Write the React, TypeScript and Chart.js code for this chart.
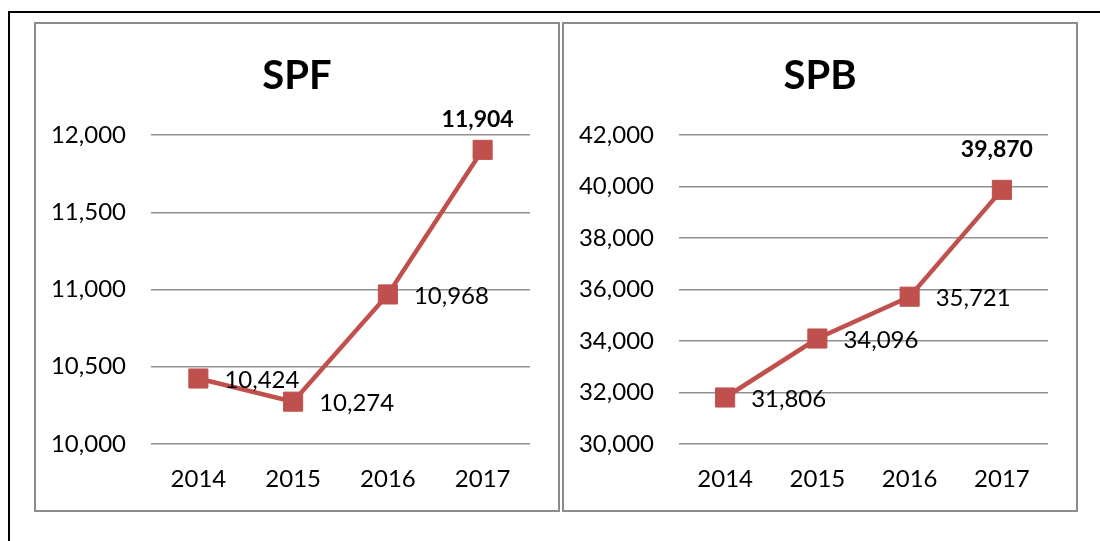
import React, { useEffect, useRef } from "react";
import { Chart, registerables } from "chart.js";

Chart.register(...registerables);

const years = ["2014", "2015", "2016", "2017"];
const spfValues = [10424, 10274, 10968, 11904];
const spbValues = [31806, 34096, 35721, 39870];
const spfTicks = { min: 10000, max: 12000, step: 500 };
const spbTicks = { min: 30000, max: 42000, step: 2000 };

const RED = "#C0504D";
const FONT = "Lato";

const fmt = (v: number) => Number(v).toLocaleString("en-US");

const valueLabels = {
  id: "valueLabels",
  afterDatasetsDraw(chart: any, _args: any, opts: any) {
    const ctx = chart.ctx;
    const meta = chart.getDatasetMeta(0);
    const data = chart.data.datasets[0].data as number[];
    ctx.save();
    ctx.fillStyle = "#000";
    meta.data.forEach((pt: any, i: number) => {
      const last = i === data.length - 1;
      if (last) {
        ctx.font = `bold 23px ${FONT}`;
        ctx.textAlign = "center";
        ctx.textBaseline = "middle";
        ctx.fillText(fmt(data[i]), pt.x - 5, pt.y - (opts.above || 30));
      } else {
        ctx.font = `24px ${FONT}`;
        ctx.textAlign = "left";
        ctx.textBaseline = "middle";
        ctx.fillText(fmt(data[i]), pt.x + 26, pt.y + 2);
      }
    });
    ctx.restore();
  },
};

function LineChart(props: {
  title: string;
  values: number[];
  ticks: { min: number; max: number; step: number };
  above: number;
  width: number;
}) {
  const ref = useRef<HTMLCanvasElement | null>(null);
  useEffect(() => {
    if (!ref.current) return;
    const { title, values, ticks, above } = props;
    const chart = new Chart(ref.current, {
      type: "line",
      data: {
        labels: years,
        datasets: [
          {
            data: values,
            borderColor: RED,
            backgroundColor: RED,
            borderWidth: 4.5,
            pointStyle: "rect",
            pointRadius: 13.5,
            pointBorderWidth: 1,
            pointBorderColor: RED,
            pointBackgroundColor: RED,
            tension: 0,
            clip: false as any,
          },
        ],
      },
      options: {
        animation: false,
        responsive: false,
        maintainAspectRatio: false,
        layout: { padding: 0 },
        plugins: {
          legend: { display: false },
          tooltip: { enabled: false },
          title: {
            display: true,
            text: title,
            color: "#000",
            font: { family: FONT, size: 40, weight: "bold" },
            padding: { top: 28, bottom: 35 },
          },
          valueLabels: { above },
        } as any,
        scales: {
          x: {
            type: "category",
            offset: true,
            grid: { display: false, drawTicks: false },
            border: { display: false },
            ticks: {
              color: "#000",
              font: { family: FONT, size: 24 },
              padding: 21,
              maxRotation: 0,
            },
            afterFit: (s: any) => {
              s.height = 66;
            },
          },
          y: {
            min: ticks.min,
            max: ticks.max,
            grid: { color: "#8f8f8f", lineWidth: 1.5, drawTicks: false },
            border: { display: false },
            ticks: {
              stepSize: ticks.step,
              color: "#000",
              font: { family: FONT, size: 24 },
              padding: 25,
              callback: (v: any) => fmt(v),
            },
            afterFit: (s: any) => {
              s.width = 115;
            },
          },
          yRight: {
            position: "right",
            display: true,
            min: ticks.min,
            max: ticks.max,
            grid: { display: false, drawTicks: false },
            border: { display: false },
            ticks: { display: false },
            afterFit: (s: any) => {
              s.width = 28;
            },
          },
        },
      } as any,
      plugins: [valueLabels],
    });
    return () => chart.destroy();
  }, []);
  return <canvas ref={ref} width={props.width} height={486} style={{ display: "block" }} />;
}

export default function App() {
  return (
    <div
      style={{
        position: "absolute",
        left: 0,
        top: 0,
        width: 1100,
        height: 541,
        background: "#fff",
        overflow: "hidden",
      }}
    >
      <div
        style={{
          position: "absolute",
          left: 8,
          top: 11,
          width: 1100,
          height: 600,
          borderTop: "2px solid #000",
          borderLeft: "2px solid #000",
        }}
      />
      <div
        style={{
          position: "absolute",
          left: 34,
          top: 22,
          width: 522,
          height: 486,
          border: "2px solid #8c8c8c",
        }}
      >
        <LineChart title="SPF" values={spfValues} ticks={spfTicks} above={30} width={522} />
      </div>
      <div
        style={{
          position: "absolute",
          left: 562,
          top: 22,
          width: 512,
          height: 486,
          border: "2px solid #8c8c8c",
        }}
      >
        <LineChart title="SPB" values={spbValues} ticks={spbTicks} above={40} width={512} />
      </div>
    </div>
  );
}
